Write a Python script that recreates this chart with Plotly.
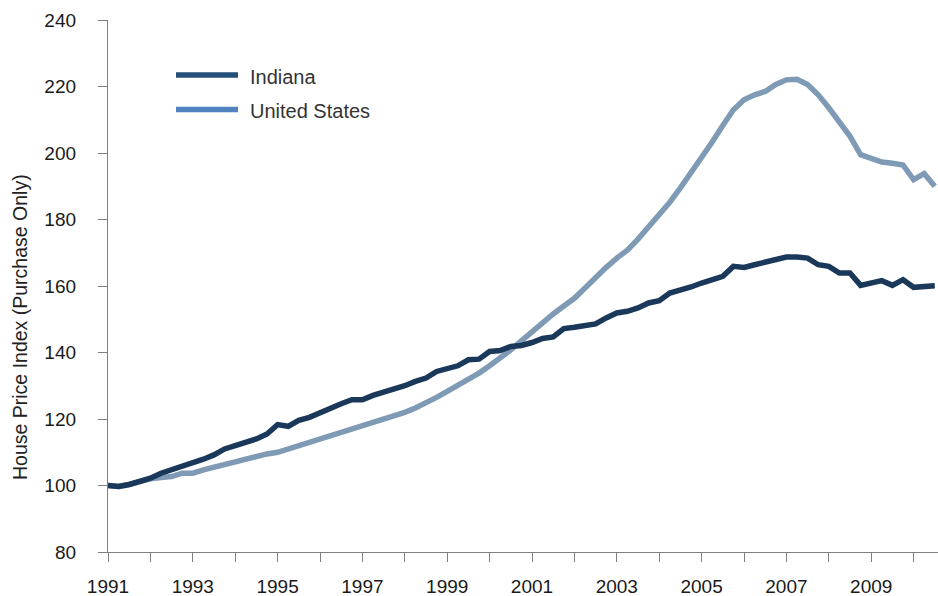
import plotly.graph_objects as go

start_year = 1991
indiana = [100.0, 99.7, 100.3, 101.2, 102.2, 103.7, 104.7, 105.7, 106.7, 107.9,
           109.2, 111.0, 112.0, 113.0, 114.0, 115.5, 118.3, 117.8, 119.6, 120.5,
           122.0, 123.3, 124.6, 125.8, 125.8, 127.1, 128.0, 129.0, 130.0, 131.3,
           132.3, 134.3, 135.1, 136.0, 137.8, 138.0, 140.3, 140.6, 141.8, 142.1,
           143.0, 144.2, 144.7, 147.2, 147.6, 148.0, 148.6, 150.4, 151.9, 152.4,
           153.4, 154.9, 155.6, 157.9, 158.6, 159.7, 160.9, 162.1, 162.9, 165.9,
           165.6, 166.4, 167.2, 167.9, 168.7, 168.7, 168.4, 166.4, 165.9, 163.9,
           163.9, 160.2, 161.1, 161.6, 160.2, 161.9, 159.6, 159.9, 160.1]
united_states = [100.0, 99.7, 100.3, 101.2, 102.0, 102.4, 102.7, 103.7, 103.7, 104.7,
                 105.5, 106.5, 107.4, 108.2, 108.9, 109.5, 110.0, 111.0, 111.9, 112.7,
                 114.0, 115.0, 115.8, 117.0, 118.0, 118.8, 119.6, 120.8, 122.0, 123.3,
                 124.8, 126.5, 128.3, 130.0, 131.8, 133.8, 136.0, 138.3, 140.8, 143.5,
                 146.3, 149.0, 151.6, 154.0, 156.3, 159.4, 162.6, 165.6, 168.4, 170.8,
                 174.1, 177.6, 181.5, 185.2, 189.5, 194.0, 198.3, 203.3, 208.3, 213.0,
                 216.0, 217.5, 218.5, 220.6, 222.0, 222.2, 220.6, 217.5, 213.6, 209.5,
                 205.0, 199.5, 198.5, 197.3, 196.9, 196.4, 192.0, 193.8, 190.0]
quarters = [start_year + i / 4 for i in range(len(indiana))]
year_ticks = list(range(1991, 2011, 2))
y_ticks = list(range(80, 241, 20))
series_names = ["Indiana", "United States"]

fig = go.Figure()
fig.add_trace(go.Scatter(x=quarters, y=united_states, mode="lines", name=series_names[1],
                         line=dict(color="#7f9ab4", width=5.5), showlegend=False))
fig.add_trace(go.Scatter(x=quarters, y=indiana, mode="lines", name=series_names[0],
                         line=dict(color="#19385a", width=5.5), showlegend=False))

L, T, B = 108, 20, 44
W, H = 938, 596
pw, ph = W - L, H - T - B

def px(x):
    return (x - L) / pw

def py(y):
    return (H - B - y) / ph

# legend (drawn manually)
leg_colors = ["#244f78", "#4f82be"]
leg_y = [75, 109.5]
for name, col, yy in zip(series_names, leg_colors, leg_y):
    fig.add_shape(type="line", xref="paper", yref="paper", x0=px(176), x1=px(238),
                  y0=py(yy), y1=py(yy), line=dict(color=col, width=5.5))
    fig.add_annotation(xref="paper", yref="paper", x=px(248), y=py(yy + 2), text=name,
                       showarrow=False, xanchor="left", yanchor="middle",
                       font=dict(size=20, color="#333333", family="Liberation Sans, Arial"))

fig.add_annotation(xref="paper", yref="paper", x=px(20), y=py(327),
                   text="House Price Index (Purchase Only)", textangle=-90,
                   showarrow=False, xanchor="center", yanchor="middle",
                   font=dict(size=19.5, color="#222222", family="Liberation Sans, Arial"))

fig.update_layout(
    width=W, height=H,
    margin=dict(l=L, r=0, t=T, b=B, pad=0, autoexpand=False),
    paper_bgcolor="white", plot_bgcolor="white",
    font=dict(family="Liberation Sans, Arial", size=19, color="#1a1a1a"),
    xaxis=dict(range=[1991, 1991 + pw / 42.4], tickvals=year_ticks,
               ticktext=[str(y) for y in year_ticks], automargin=False,
               ticks="outside", ticklen=9, tickcolor="#808080", tickwidth=1.3,
               showline=True, linecolor="#808080", linewidth=1.3,
               showgrid=False, zeroline=False, ticklabelstandoff=8,
               minor=dict(ticks="outside", ticklen=9, tickcolor="#808080", dtick=1,
                          tick0=1991, showgrid=False)),
    yaxis=dict(range=[80, 240], tickvals=y_ticks, automargin=False,
               ticks="outside", ticklen=9, tickcolor="#808080", tickwidth=1.3,
               showline=True, linecolor="#808080", linewidth=1.3,
               showgrid=False, zeroline=False, ticklabelstandoff=18),
)

fig.write_html("out.html", config={"displayModeBar": False},
               post_script="document.body.style.margin='0';document.body.style.overflow='hidden';")
